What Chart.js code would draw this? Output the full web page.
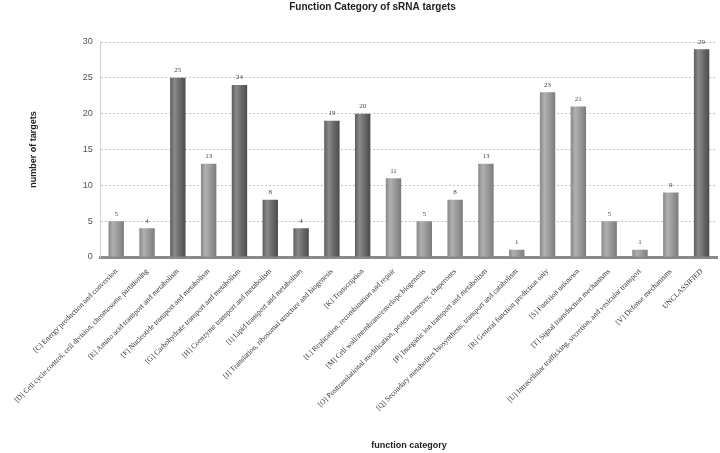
<!DOCTYPE html>
<html>
<head>
<meta charset="utf-8">
<script src="https://cdn.jsdelivr.net/npm/chart.js@4.4.1/dist/chart.umd.min.js"></script>
<style>
  html, body { margin: 0; padding: 0; background: #fff; }
  #wrap { width: 720px; height: 453px; }
</style>
</head>
<body>
<div id="wrap"><canvas id="chart_targets"></canvas></div>
<script>
// categories (COG function classes)
var categories = [
  "[C] Energy production and conversion",
  "[D] Cell cycle control, cell division, chromosome partitioning",
  "[E] Amino acid transport and metabolism",
  "[F] Nucleotide transport and metabolism",
  "[G] Carbohydrate transport and metabolism",
  "[H] Coenzyme transport and metabolism",
  "[I] Lipid transport and metabolism",
  "[J] Translation, ribosomal structure and biogenesis",
  "[K] Transcription",
  "[L] Replication, recombination and repair",
  "[M] Cell wall/membrane/envelope biogenesis",
  "[O] Posttranslational modification, protein turnover, chaperones",
  "[P] Inorganic ion transport and metabolism",
  "[Q] Secondary metabolites biosynthesis, transport and catabolism",
  "[R] General function prediction only",
  "[S] Function unknown",
  "[T] Signal transduction mechanisms",
  "[U] Intracellular trafficking, secretion, and vesicular transport",
  "[V] Defense mechanisms",
  "UNCLASSIFIED"
];

// number of targets per category
var targets = [5, 4, 25, 13, 24, 8, 4, 19, 20, 11, 5, 8, 13, 1, 23, 21, 5, 1, 9, 29];

var yTicks = [0, 5, 10, 15, 20, 25, 30];

// bar shade: 1 = dark, 0 = light
var shade = [0, 0, 1, 0, 1, 1, 1, 1, 1, 0, 0, 0, 0, 0, 0, 0, 0, 0, 0, 1];

function barFill(ctx) {
  var chart = ctx.chart;
  var dark = shade[ctx.dataIndex] == 1;
  var base = dark ? '#6f6f6f' : '#9a9a9a';
  if (!chart.chartArea || !chart.scales.x) return base;
  var cx = chart.scales.x.getPixelForValue(ctx.dataIndex);
  var g = chart.ctx.createLinearGradient(cx - 8, 0, cx + 8, 0);
  if (dark) {
    g.addColorStop(0, '#5a5a5a');
    g.addColorStop(0.3, '#8a8a8a');
    g.addColorStop(0.6, '#6c6c6c');
    g.addColorStop(1, '#4a4a4a');
  } else {
    g.addColorStop(0, '#858585');
    g.addColorStop(0.3, '#b0b0b0');
    g.addColorStop(0.6, '#9a9a9a');
    g.addColorStop(1, '#7a7a7a');
  }
  return g;
}

// value labels above the bars
var valueLabels = {
  id: 'valueLabels',
  afterDatasetsDraw: function(chart) {
    var c = chart.ctx;
    var meta = chart.getDatasetMeta(0);
    c.save();
    c.font = '7px "Liberation Serif"';
    c.fillStyle = '#444';
    c.textAlign = 'center';
    c.textBaseline = 'bottom';
    meta.data.forEach(function(bar, i) {
      c.fillText(String(targets[i]), bar.x, bar.y - 4);
    });
    c.restore();
  }
};

var ctxB = document.getElementById('chart_targets').getContext('2d');
var myBarChart = new Chart(ctxB, {
  type: 'bar',
  data: {
    labels: categories,
    datasets: [{
      label: 'number of targets',
      data: targets,
      backgroundColor: barFill,
      borderWidth: 0,
      barPercentage: 0.5,
      categoryPercentage: 1.0
    }]
  },
  plugins: [valueLabels],
  options: {
    responsive: true,
    maintainAspectRatio: false,
    animation: false,
    layout: { padding: { left: 28, right: 3, top: 1, bottom: 2 } },
    plugins: {
      legend: { display: false },
      tooltip: { enabled: false },
      title: {
        display: true,
        text: 'Function Category of sRNA targets',
        color: '#222',
        font: { family: 'Arial, "Liberation Sans"', size: 10, weight: 'bold' },
        padding: { top: 0, bottom: 29 }
      }
    },
    scales: {
      x: {
        grid: { display: false },
        border: { color: '#8a8a8a', width: 3 },
        ticks: {
          autoSkip: false,
          maxRotation: 45,
          minRotation: 45,
          padding: 2,
          color: '#333',
          font: { family: '"Liberation Serif", "DejaVu Serif", serif', size: 7.5 }
        },
        title: {
          display: true,
          text: 'function category',
          color: '#222',
          font: { family: 'Arial, "Liberation Sans"', size: 9, weight: 'bold' },
          padding: { top: 0, bottom: 0 }
        },
        afterFit: function(s) { s.height = 194; }
      },
      y: {
        min: 0,
        max: 30,
        afterBuildTicks: function(s) {
          s.ticks = yTicks.map(function(v) { return { value: v }; });
        },
        grid: {
          color: '#c4c4c4',
          drawTicks: false
        },
        border: { color: '#cfcfcf', width: 1, dash: [2, 2] },
        ticks: {
          padding: 8,
          color: '#555',
          font: { family: 'Arial, "Liberation Sans"', size: 9 }
        },
        title: {
          display: true,
          text: 'number of targets',
          color: '#222',
          font: { family: 'Arial, "Liberation Sans"', size: 9, weight: 'bold' },
          padding: { top: 0, bottom: 36 }
        }
      }
    }
  }
});
</script>
</body>
</html>
